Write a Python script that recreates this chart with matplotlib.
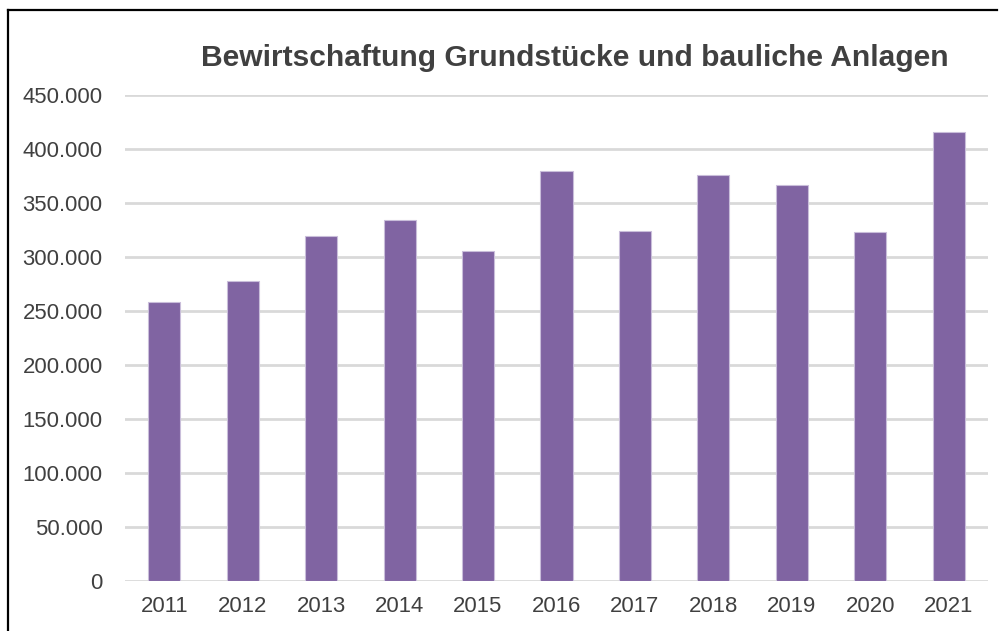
import matplotlib
matplotlib.use("Agg")
import matplotlib.pyplot as plt
from matplotlib.lines import Line2D
from matplotlib.ticker import FuncFormatter

years = ["2011", "2012", "2013", "2014", "2015", "2016", "2017", "2018", "2019", "2020", "2021"]
values = [258200, 277400, 319100, 333900, 305200, 379600, 324300, 375900, 366300, 323400, 416000]
yticks = [0, 50000, 100000, 150000, 200000, 250000, 300000, 350000, 400000, 450000]
title = "Bewirtschaftung Grundstücke und bauliche Anlagen"

W, H = 1002, 631
fig = plt.figure(figsize=(W / 100, H / 100), dpi=100)
plt.rcParams['font.family'] = ['Liberation Sans', 'DejaVu Sans']

ax = fig.add_axes([125 / W, 1 - 580.7 / H, (988 - 125) / W, (580.7 - 95) / H])
x = list(range(len(years)))
ax.bar(x, values, width=0.41, color="#8064A2", edgecolor="#C9BEDA", linewidth=0.8, zorder=3)
ax.set_xlim(-0.5, len(years) - 0.5)
ax.set_ylim(0, 450000)
ax.set_yticks(yticks)
ax.yaxis.set_major_formatter(FuncFormatter(lambda v, p: f"{int(v):,}".replace(",", ".")))
ax.set_xticks(x)
ax.set_xticklabels(years)
ax.grid(axis="y", color="#D9D9D9", linewidth=2, zorder=0)
for s in ax.spines.values():
    s.set_visible(False)
ax.tick_params(axis="both", length=0, labelsize=15.9, labelcolor="#404040")
ax.tick_params(axis="y", pad=16)
ax.tick_params(axis="x", pad=11)

fig.text(575 / W, 1 - 58 / H, title, ha="center", va="center",
         fontsize=21.6, fontweight="bold", color="#404040")

fig.add_artist(Line2D([7.5 / W, 7.5 / W], [0, 1 - 10 / H], transform=fig.transFigure,
                      color="black", linewidth=1.6))
fig.add_artist(Line2D([7.5 / W, 997 / W], [1 - 10 / H, 1 - 10 / H], transform=fig.transFigure,
                      color="black", linewidth=1.6))

fig.savefig("out.png", dpi=100)
